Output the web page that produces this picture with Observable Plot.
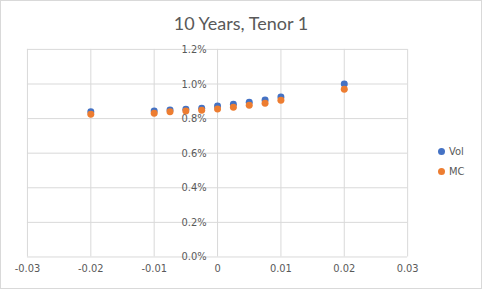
<!DOCTYPE html>
<html>
<head>
<meta charset="utf-8">
<script src="https://cdn.jsdelivr.net/npm/d3@7"></script>
<script src="https://cdn.jsdelivr.net/npm/@observablehq/plot@0.6"></script>
<style>
  html, body { margin: 0; padding: 0; background: #fff; }
  #wrap { position: relative; width: 480px; height: 287px; border: 1px solid #d9d9d9; overflow: hidden;
          font-family: "Liberation Sans Narrow", "DejaVu Sans Condensed", "Liberation Sans", sans-serif; color: #595959; }
  #title { position: absolute; left: 0; right: 0; top: 11px; text-align: center; font-size: 18px;
           font-family: Lato, "Open Sans", "Liberation Sans", sans-serif; color: #595959; }
  #chart { position: absolute; left: -1px; top: -1px; }
  #legend { position: absolute; left: 437px; top: 140px; font-size: 11px; }
  .li { display: flex; align-items: center; height: 20px; }
  .sw { width: 7px; height: 7px; border-radius: 50%; margin-right: 4px; }
</style>
</head>
<body>
<div id="wrap">
  <div id="chart"></div>
  <div id="title">10 Years, Tenor 1</div>
  <div id="legend"></div>
</div>
<script>
const title = "10 Years, Tenor 1";
const shocks = [-0.02, -0.01, -0.0075, -0.005, -0.0025, 0, 0.0025, 0.005, 0.0075, 0.01, 0.02];
const volValues = [0.00840, 0.00844, 0.00850, 0.00854, 0.00860, 0.00873, 0.00883, 0.00894, 0.00908, 0.00925, 0.01000];
const mcValues  = [0.00825, 0.00831, 0.00839, 0.00844, 0.00848, 0.00856, 0.00866, 0.00877, 0.00889, 0.00906, 0.00970];
const seriesNames = ["Vol", "MC"];
const seriesColors = ["#4472C4", "#ED7D31"];
const xTicks = [-0.03, -0.02, -0.01, 0, 0.01, 0.02, 0.03];
const yTicks = [0, 0.002, 0.004, 0.006, 0.008, 0.010, 0.012];

const data = [];
seriesNames.forEach((name, si) => {
  const vals = si === 0 ? volValues : mcValues;
  shocks.forEach((x, i) => data.push({series: name, x, y: vals[i]}));
});

const fmtX = d => d === 0 ? "0" : d3.format(".2f")(d).replace("−", "-");
const fmtY = d => d3.format(".1%")(d);

const chart = Plot.plot({
  width: 482,
  height: 289,
  marginLeft: 27,
  marginRight: 74,
  marginTop: 49,
  marginBottom: 32,
  style: {fontFamily: '"Liberation Sans Narrow", "DejaVu Sans Condensed", "Liberation Sans", sans-serif', fontSize: "11px", color: "#595959", background: "transparent"},
  x: {domain: [-0.03, 0.03], axis: null},
  y: {domain: [0, 0.012], axis: null},
  color: {domain: seriesNames, range: seriesColors},
  marks: [
    Plot.ruleX(xTicks, {stroke: "#d9d9d9", strokeWidth: 1}),
    Plot.ruleY(yTicks, {stroke: "#d9d9d9", strokeWidth: 1}),
    Plot.text(xTicks, {x: d => d, frameAnchor: "bottom", dy: 15, text: fmtX, fill: "#595959"}),
    Plot.text(yTicks, {x: 0, y: d => d, text: fmtY, textAnchor: "end", dx: -11, fill: "#595959"}),
    Plot.dot(data.filter(d => d.series === "Vol"), {x: "x", y: "y", r: 3.5, fill: "series", stroke: null}),
    Plot.dot(data.filter(d => d.series === "MC"), {x: "x", y: "y", r: 3.5, fill: "series", stroke: null})
  ]
});
document.getElementById("chart").appendChild(chart);
document.getElementById("title").textContent = title;

const legend = document.getElementById("legend");
seriesNames.forEach((name, i) => {
  const row = document.createElement("div");
  row.className = "li";
  const sw = document.createElement("span");
  sw.className = "sw";
  sw.style.background = seriesColors[i];
  const t = document.createElement("span");
  t.textContent = name;
  row.appendChild(sw); row.appendChild(t);
  legend.appendChild(row);
});
</script>
</body>
</html>
